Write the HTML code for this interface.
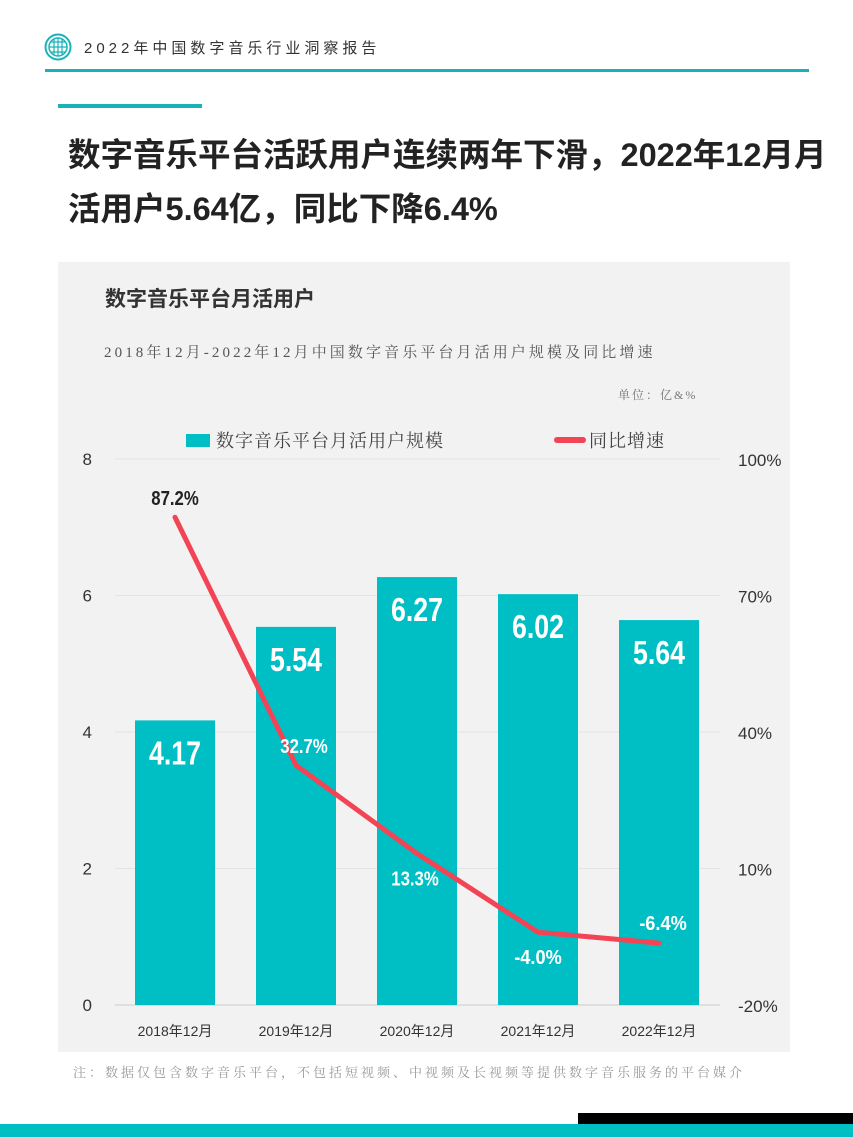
<!DOCTYPE html>
<html><head><meta charset="utf-8"><style>
body{margin:0;width:853px;height:1137px;position:relative;background:#fff;font-family:"Liberation Sans","Noto Sans CJK SC",sans-serif;overflow:hidden}
.a{position:absolute}
</style></head><body>
<svg class="a" style="left:44px;top:33px" width="28" height="28" viewBox="0 0 28 28"><circle cx="14" cy="14" r="12.5" fill="none" stroke="#18b3b8" stroke-width="2"/><circle cx="14" cy="14" r="9" fill="none" stroke="#18b3b8" stroke-width="1.5"/><path d="M5 14H23M14 5V23M7 9H21M7 19H21M10 6V22M18 6V22" stroke="#18b3b8" stroke-width="1.2" fill="none"/></svg>
<div class="a" style="left:84px;top:37px;font-size:15px;letter-spacing:4px;color:#333">2022年中国数字音乐行业洞察报告</div>
<div class="a" style="left:45px;top:69px;width:764px;height:3px;background:#18b3b8"></div>
<div class="a" style="left:58px;top:104px;width:144px;height:4px;background:#18b3b8"></div>
<div class="a" style="left:68px;top:128px;width:800px;font-size:32.5px;font-weight:bold;line-height:54px;color:#222">数字音乐平台活跃用户连续两年下滑，2022年12月月<br>活用户5.64亿，同比下降6.4%</div>
<div class="a" style="left:58px;top:262px;width:732px;height:790px;background:#f2f2f2"></div>
<div class="a" style="left:105px;top:283px;font-size:21px;font-weight:bold;color:#333">数字音乐平台月活用户</div>
<div class="a" style="left:104px;top:341px;font-size:15px;color:#555;font-family:'Liberation Serif','Noto Serif CJK SC',serif;letter-spacing:3.1px">2018年12月-2022年12月中国数字音乐平台月活用户规模及同比增速</div>
<div class="a" style="left:618px;top:386px;font-size:12px;color:#777;letter-spacing:2px;font-family:'Liberation Serif','Noto Serif CJK SC',serif">单位：亿&amp;%</div>
<svg class="a" id="chart" style="left:0;top:0" width="853" height="1137"></svg>
<div class="a" style="left:73px;top:1062px;font-size:13px;color:#999;letter-spacing:3px;font-family:'Liberation Serif','Noto Serif CJK SC',serif">注：数据仅包含数字音乐平台，不包括短视频、中视频及长视频等提供数字音乐服务的平台媒介</div>
<div class="a" style="left:578px;top:1113px;width:275px;height:11px;background:#000"></div>
<div class="a" style="left:0;top:1124px;width:853px;height:13px;background:#00bfc4"></div>
<script>
const categories=["2018年12月","2019年12月","2020年12月","2021年12月","2022年12月"];
const users=[4.17,5.54,6.27,6.02,5.64];
const growth=[87.2,32.7,13.3,-4.0,-6.4];
const leftTicks=[0,2,4,6,8];
const rightTicks=[-20,10,40,70,100];
const NS="http://www.w3.org/2000/svg";
const svg=document.getElementById('chart');
const y0=1005,y1=459;
const yL=v=>y0-(v/8)*(y0-y1);
const yR=v=>y0-((v+20)/120)*(y0-y1);
const xC=i=>175+i*121;
function mk(t,a,txt){const e=document.createElementNS(NS,t);for(const k in a)e.setAttribute(k,a[k]);if(txt!==undefined)e.textContent=txt;svg.appendChild(e);return e;}
leftTicks.forEach((v,i)=>{
 const g=mk('line',{x1:115,x2:720,y1:yL(v),y2:yL(v),stroke:i==0?'#ccc':'#e4e4e4','stroke-width':1});
 
 
 const t=mk('text',{x:92,y:yL(v)+6,'text-anchor':'end','font-size':17,fill:'#333'},v);
 
 
});
rightTicks.forEach(v=>{
 const t=mk('text',{x:738,y:yR(v)+7,'font-size':17,fill:'#333'},v+'%');
 
 
});
users.forEach((v,i)=>{
 const r=mk('rect',{x:xC(i)-40,y:yL(v),width:80,height:y0-yL(v),fill:'#00bfc4'});
 
 
 const t=mk('text',{x:xC(i),y:yL(v)+44,'text-anchor':'middle','font-size':33,'font-weight':'bold',fill:'#fff',textLength:52,lengthAdjust:'spacingAndGlyphs'},v.toFixed(2));
 
 
 const c=mk('text',{x:xC(i),y:1036,'text-anchor':'middle','font-size':14,fill:'#333'},categories[i]);
 
 
});
let d='';growth.forEach((v,i)=>{d+=(i?'L':'M')+xC(i)+' '+yR(v);});
const p=mk('path',{d:d,fill:'none',stroke:'#f24455','stroke-width':5,'stroke-linejoin':'round','stroke-linecap':'round'});


const off=[[0,-12],[8,-12],[-2,32],[0,32],[4,-13]];
growth.forEach((v,i)=>{
 const s=v.toFixed(1)+'%';
 const t=mk('text',{x:xC(i)+off[i][0],y:yR(v)+off[i][1],'text-anchor':'middle','font-size':20,'font-weight':'bold',fill:i==0?'#222':'#fff',textLength:s.length*9.5,lengthAdjust:'spacingAndGlyphs'},s);
 
 
});
const lr=mk('rect',{x:186,y:434,width:24,height:13,fill:'#00bfc4'});


const lt=mk('text',{x:216,y:447,'font-size':18,fill:'#444','font-family':'Liberation Serif, Noto Serif CJK SC, serif','letter-spacing':1},'数字音乐平台月活用户规模');


const ll=mk('line',{x1:557,x2:583,y1:440,y2:440,stroke:'#f24455','stroke-width':6,'stroke-linecap':'round'});


const lt2=mk('text',{x:589,y:447,'font-size':18,fill:'#444','font-family':'Liberation Serif, Noto Serif CJK SC, serif','letter-spacing':1},'同比增速');


</script>
</body></html>
